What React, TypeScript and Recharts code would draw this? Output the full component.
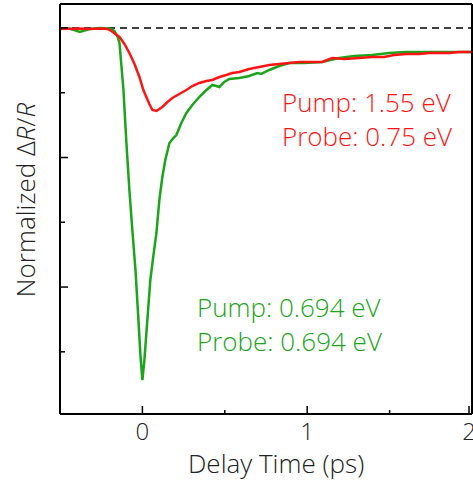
import { LineChart, Line, XAxis, YAxis, ReferenceLine } from "recharts";

// delay time (ps) / normalized dR/R
const GREEN_X = [
  -0.5, -0.44, -0.38, -0.32, -0.26, -0.2, -0.17, -0.152, -0.139, -0.115, -0.097,
  -0.079, -0.061, -0.042, -0.024, -0.012, 0, 0.012, 0.03, 0.048, 0.067, 0.085,
  0.103, 0.121, 0.139, 0.164, 0.188, 0.206, 0.236, 0.267, 0.303, 0.345, 0.382,
  0.424, 0.448, 0.467, 0.497, 0.527, 0.588, 0.648, 0.697, 0.721, 0.77, 0.83,
  0.891, 0.982, 1.091, 1.194, 1.285, 1.394, 1.497, 1.6, 1.709, 1.8, 1.891, 2.0,
];
const GREEN_Y = [
  -0.0015, -0.0008, -0.006, -0.0015, 0, -0.0008, -0.0046, -0.0124, -0.0232,
  -0.0958, -0.1776, -0.2502, -0.312, -0.3737, -0.451, -0.505, -0.5436, -0.5127,
  -0.451, -0.3892, -0.3506, -0.3166, -0.2656, -0.2301, -0.2039, -0.1776,
  -0.1699, -0.1653, -0.1467, -0.1313, -0.1189, -0.1066, -0.0973, -0.088,
  -0.0896, -0.0911, -0.0834, -0.0788, -0.0772, -0.0741, -0.0695, -0.071,
  -0.0649, -0.0587, -0.0541, -0.0541, -0.0525, -0.0463, -0.0432, -0.0417,
  -0.0386, -0.0371, -0.0371, -0.0371, -0.0371, -0.0371,
];

const RED_X = [
  -0.5, -0.473, -0.43, -0.382, -0.321, -0.261, -0.212, -0.188, -0.164, -0.139,
  -0.109, -0.079, -0.048, -0.018, 0.006, 0.024, 0.042, 0.061, 0.085, 0.103,
  0.121, 0.152, 0.182, 0.224, 0.267, 0.303, 0.345, 0.388, 0.424, 0.467, 0.509,
  0.545, 0.588, 0.648, 0.709, 0.77, 0.83, 0.891, 0.952, 1.012, 1.091, 1.152,
  1.224, 1.315, 1.394, 1.467, 1.527, 1.6, 1.679, 1.739, 1.8, 1.861, 1.921, 2.0,
];
const RED_Y = [
  -0.0015, -0.0008, -0.0015, -0.0008, -0.0015, -0.0008, -0.0015, -0.0046,
  -0.0093, -0.0139, -0.0247, -0.0386, -0.0556, -0.0757, -0.0958, -0.1066,
  -0.1174, -0.1266, -0.1282, -0.1251, -0.122, -0.1143, -0.1081, -0.1019,
  -0.0958, -0.0896, -0.0849, -0.0819, -0.0803, -0.0757, -0.0726, -0.0695,
  -0.068, -0.0633, -0.0602, -0.0571, -0.0556, -0.0541, -0.0525, -0.0525,
  -0.0525, -0.0463, -0.0479, -0.0463, -0.0448, -0.0448, -0.0417, -0.0402,
  -0.0402, -0.0386, -0.0386, -0.0386, -0.0371, -0.0371,
];

const X_TICKS = [0, 0.5, 1, 1.5, 2];
const Y_TICKS = [0, -0.1, -0.2, -0.3, -0.4, -0.5];

const green = GREEN_X.map((x, i) => ({ x, y: GREEN_Y[i] }));
const red = RED_X.map((x, i) => ({ x, y: RED_Y[i] }));

const FONT = "'Open Sans', sans-serif";
const GREEN = "#1aa51a";
const RED = "#ff1414";
const AXIS = { stroke: "#000", strokeWidth: 2 };

const XTick = ({ x, y, payload }: any) => {
  const major = Number.isInteger(payload.value);
  return (
    <g>
      <line x1={x} x2={x} y1={y} y2={y - (major ? 8 : 4)} stroke="#000" strokeWidth={1.5} />
      {major && (
        <text x={x} y={y + 26} textAnchor="middle" fontSize={24} fontFamily={FONT} fontWeight={300} fill="#222">
          {payload.value}
        </text>
      )}
    </g>
  );
};

const YTick = ({ x, y, payload }: any) => {
  const major = Math.round(payload.value * 10) % 2 === 0;
  return <line x1={x} x2={x + (major ? 8 : 5)} y1={y} y2={y} stroke="#000" strokeWidth={1.5} />;
};

const textStyle = (color: string): React.CSSProperties => ({
  position: "absolute",
  fontFamily: FONT,
  fontWeight: 300,
  fontSize: 26,
  lineHeight: "34px",
  color,
  whiteSpace: "nowrap",
});

export default function App() {
  return (
    <div style={{ position: "absolute", left: 0, top: 0, width: 473, height: 483, background: "#fff" }}>
      <LineChart width={473} height={483} margin={{ top: 3, right: 0, bottom: 68, left: 59 }}>
        <XAxis
          dataKey="x"
          type="number"
          domain={[-0.5, 2]}
          ticks={X_TICKS}
          allowDataOverflow
          height={1}
          tickSize={0}
          tickMargin={0}
          tickLine={false}
          tick={<XTick />}
          axisLine={AXIS}
        />
        <XAxis xAxisId="top" orientation="top" height={1} tick={false} tickLine={false} axisLine={AXIS} />
        <YAxis
          type="number"
          domain={[-0.596, 0.037]}
          ticks={Y_TICKS}
          allowDataOverflow
          width={1}
          tickSize={0}
          tickMargin={0}
          tickLine={false}
          tick={<YTick />}
          axisLine={AXIS}
        />
        <YAxis yAxisId="right" orientation="right" width={1} tick={false} tickLine={false} axisLine={AXIS} />
        <ReferenceLine y={0} stroke="#000" strokeWidth={1.5} strokeDasharray="7 5" />
        <Line data={green} dataKey="y" stroke={GREEN} strokeWidth={2.5} dot={false} isAnimationActive={false} />
        <Line data={red} dataKey="y" stroke={RED} strokeWidth={2.5} dot={false} isAnimationActive={false} />
      </LineChart>

      <div style={{ ...textStyle(RED), left: 282, top: 85 }}>
        Pump: 1.55 eV
        <br />
        Probe: 0.75 eV
      </div>
      <div style={{ ...textStyle(GREEN), left: 197, top: 290 }}>
        Pump: 0.694 eV
        <br />
        Probe: 0.694 eV
      </div>
      <div style={{ ...textStyle("#222"), left: 188, top: 446 }}>Delay Time (ps)</div>
      <div
        style={{
          ...textStyle("#222"),
          left: 25,
          top: 200,
          transform: "translate(-50%, -50%) rotate(-90deg)",
        }}
      >
        Normalized Δ<i>R</i>/<i>R</i>
      </div>
    </div>
  );
}
